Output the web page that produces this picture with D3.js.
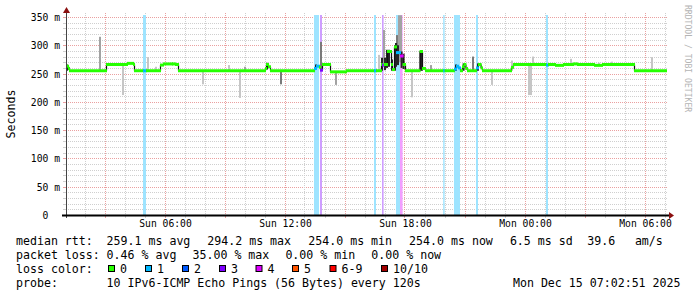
<!DOCTYPE html>
<html><head><meta charset="utf-8">
<script src="https://cdn.jsdelivr.net/npm/d3@7/dist/d3.min.js"></script>
<style>
html,body{margin:0;padding:0;background:#fff;}
svg{display:block;font-family:"DejaVu Sans Mono",monospace;}
text{white-space:pre;}
</style></head><body>
<svg id="c" width="697" height="297"></svg>
<script>
// ---------- DATA ----------
// time is expressed in hours since Sun Dec 14 2025 00:00
const timeDomainHours = [1.05, 31.05];
const xTickHours = [6, 12, 18, 24, 30];
const xTickLabels = ["Sun 06:00", "Sun 12:00", "Sun 18:00", "Mon 00:00", "Mon 06:00"];
const yMax = 353.5;
const yTickValues = [0, 50, 100, 150, 200, 250, 300, 350];
const yTickLabels = ["0  ", "50 m", "100 m", "150 m", "200 m", "250 m", "300 m", "350 m"];

const lossLabels = ["0", "1", "2", "3", "4", "5", "6-9", "10/10"];
const lossColors = ["#26ff00", "#00b8ff", "#0059ff", "#7e00ff", "#dd00ff", "#ff5500", "#ff0000", "#a10000"];

// median rtt (ms) step series: [hour, ms, lossIndex]
const medianSeries = [
  [1.05,263,0],[1.15,259,0],[1.2,255,0],
  [3.05,266,0],[4.1,268,0],[4.4,266,0],[4.45,255,0],
  [4.9,255,1],[5.05,255,0],
  [5.75,265,0],[5.9,267,0],[6.35,267,0],[6.5,266,0],[6.65,255,0],
  [11.0,259,0],[11.05,266,0],[11.15,262,0],[11.25,255,0],
  [13.45,259,1],[13.55,263,1],[13.7,261,0],[13.75,256,3],[13.85,266,0],[14.25,253,0],[15.05,255,0],
  [16.45,255,1],[16.55,255,0],[16.8,266,0],[16.85,265,3],[16.93,266,0],[17.1,289,0],[17.3,266,0],
  [17.35,257,0],[17.45,297,0],[17.55,287,1],[17.75,281,4],[17.88,266,0],[18.0,255,0],
  [18.73,289,0],[18.85,259,0],[19.0,255,0],
  [19.91,255,1],[19.98,255,0],
  [20.45,258,1],[20.55,263,1],[20.65,260,1],[20.75,255,0],
  [20.85,262,0],[20.92,266,0],[21.02,259,0],[21.1,255,0],
  [21.55,260,1],[21.65,266,0],[21.78,260,0],[21.85,255,0],
  [23.3,261,0],[23.4,266,0],[25.05,265,1],[25.15,266,0],
  [25.5,264.5,0],[25.9,266,0],[26.4,267,0],[26.6,266,0],[27.45,264.5,0],[27.85,266,0],
  [29.45,255,0],[31.05,255,0]
];

// packet loss periods: [startHour, endHour, lossIndex]
const lossPeriods = [
  [4.9,5.05,1],[13.45,13.7,1],[13.75,13.85,3],[16.45,16.55,1],[16.85,16.93,3],
  [17.55,17.75,1],[17.75,17.88,4],[19.91,19.98,1],[20.45,20.75,1],[21.55,21.65,1],[25.05,25.15,1]
];

// smoke (ping spread): [hour, lowMs, highMs, density 0..3]
const smokeStepHours = 0.1;
const smokeSeries = [
  [1.05,255,266,3],[2.7,255,315,1],[3.85,212,266,0],[5.1,255,279,0],[5.5,255,262,0],
  [7.85,231,255,0],[9.15,255,265,0],[9.7,207,255,0],[9.95,255,262,1],[11.05,257,269,3],
  [11.75,231,255,2],[13.5,258,266,3],[13.75,255,306,2],[14.5,230,253,1],
  [16.65,255,283,0],[16.8,255,278,3],[16.9,262,327,1],[16.95,256,278,3],[17.05,260,292,3],
  [17.15,262,292,3],[17.3,255,275,3],[17.45,255,300,3],[17.5,262,304,3],[17.55,268,318,2],
  [17.65,270,353,1],[17.6,265,300,3],[17.75,270,353,1],[17.78,260,289,3],[17.88,258,285,3],
  [18.3,208,255,0],[18.73,255,290,3],[18.8,255,290,3],[19.25,255,265,1],
  [20.5,255,266,3],[20.88,255,268,3],[21.35,255,280,2],[21.6,255,268,3],[22.3,230,255,0],
  [23.3,255,273,0],[24.15,212,265,0],[24.25,212,265,0],[24.35,266,280,0],
  [26.25,266,276,0],[27.65,266,269,0],[28.3,266,271,0],[30.3,255,279,0]
];

const rttLegend = ["259.1 ms avg", "294.2 ms max", "254.0 ms min", "254.0 ms now", "6.5 ms sd", "39.6", "am/s"];
const lossLegend = ["0.46 % avg", "35.00 % max", "0.00 % min", "0.00 % now"];
const probeText = "10 IPv6-ICMP Echo Pings (56 Bytes) every 120s";
const stampText = "Mon Dec 15 07:02:51 2025";
const yTitle = "Seconds";
const watermark = "RRDTOOL / TOBI OETIKER";

// ---------- DRAW ----------
const base = new Date(2025, 11, 14, 0, 0, 0).getTime();
const T = h => new Date(base + h * 3600e3);
const L = 66, R = 666, TOP = 15, BOT = 215;
const x = d3.scaleTime().domain(timeDomainHours.map(T)).range([L, R]);
const y = d3.scaleLinear().domain([0, yMax]).range([BOT, TOP]);
const svg = d3.select("#c");
svg.append("rect").attr("width", 697).attr("height", 297).attr("fill", "#fff");

const px = v => Math.round(v) + 0.5;
// grid: horizontal
const gGrid = svg.append("g");
d3.range(10, 351, 10).forEach(v => {
  const major = v % 50 === 0;
  const col = major ? "#eaa0a0" : "#cfcfcf";
  gGrid.append("line").attr("x1", L - 2).attr("x2", R + 2).attr("y1", px(y(v))).attr("y2", px(y(v)))
    .attr("stroke", col).attr("stroke-dasharray", "1,1");
  gGrid.append("line").attr("x1", L - 3).attr("x2", L).attr("y1", px(y(v))).attr("y2", px(y(v)))
    .attr("stroke", col);
});
// grid: vertical
x.ticks(d3.timeHour.every(1)).forEach(d => {
  const major = d.getHours() % 3 === 0;
  const col = major ? "#eaa0a0" : "#cfcfcf";
  const xv = px(x(d) - 0.5);
  gGrid.append("line").attr("x1", xv).attr("x2", xv).attr("y1", TOP - 2).attr("y2", BOT)
    .attr("stroke", col).attr("stroke-dasharray", "1,1");
  gGrid.append("line").attr("x1", xv).attr("x2", xv).attr("y1", BOT).attr("y2", BOT + 3)
    .attr("stroke", col);
});

// loss bars
const light = c => d3.interpolateRgb("#ffffff", c)(0.38);
svg.append("g").selectAll("rect").data(lossPeriods).join("rect")
  .attr("x", d => x(T(d[0]))).attr("width", d => x(T(d[1])) - x(T(d[0])))
  .attr("y", TOP).attr("height", BOT - TOP)
  .attr("fill", d => light(lossColors[d[2]]));

// smoke
const toneColors = ["#c6c6c6", "#a2a2a2", "#7a7a7a", "#262626"];
svg.append("g").selectAll("rect").data(smokeSeries.slice().sort((a, b) => a[3] - b[3])).join("rect")
  .attr("x", d => x(T(d[0]))).attr("width", d => x(T(d[0] + smokeStepHours)) - x(T(d[0])))
  .attr("y", d => y(d[2])).attr("height", d => Math.max(1, y(d[1]) - y(d[2])))
  .attr("fill", d => toneColors[d[3]]);

// median: vertical transitions then horizontal colored segments
const pairs = d3.pairs(medianSeries);
svg.append("g").selectAll("line").data(pairs.filter(p => p[0][1] !== p[1][1])).join("line")
  .attr("x1", p => x(T(p[1][0])) + 0.5).attr("x2", p => x(T(p[1][0])) + 0.5)
  .attr("y1", p => y(p[0][1])).attr("y2", p => y(p[1][1]))
  .attr("stroke", "#111").attr("stroke-width", 1.2);
svg.append("g").selectAll("line").data(pairs).join("line")
  .attr("x1", p => x(T(p[0][0]))).attr("x2", p => x(T(p[1][0])) + 1)
  .attr("y1", p => y(p[0][1])).attr("y2", p => y(p[0][1]))
  .attr("stroke", p => lossColors[p[0][2]]).attr("stroke-width", 3);

// axes lines
svg.append("line").attr("x1", L + 0.5).attr("x2", L + 0.5).attr("y1", BOT + 3).attr("y2", 11)
  .attr("stroke", "#444").attr("stroke-width", 1);
svg.append("line").attr("x1", L - 4).attr("x2", R + 4).attr("y1", BOT + 0.5).attr("y2", BOT + 0.5)
  .attr("stroke", "#000").attr("stroke-width", 2);
svg.append("path").attr("d", `M${L - 3},13 L${L + 0.5},7 L${L + 4},13 Z`).attr("fill", "#8b1010");
svg.append("path").attr("d", `M${R + 3},${BOT - 3} L${R + 8},${BOT + 0.5} L${R + 3},${BOT + 4} Z`).attr("fill", "#8b1010");

// axis labels
const yAxis = svg.append("g").attr("transform", `translate(${L},0)`)
  .call(d3.axisLeft(y).tickValues(yTickValues).tickFormat((d, i) => yTickLabels[i]).tickSize(0).tickPadding(6));
yAxis.select(".domain").remove();
yAxis.selectAll("text").attr("font-family", "DejaVu Sans Mono").attr("font-size", "9.7px").attr("fill", "#000").attr("dy", "0.36em");
const xAxis = svg.append("g").attr("transform", `translate(0,${BOT})`)
  .call(d3.axisBottom(x).tickValues(xTickHours.map(T)).tickFormat((d, i) => xTickLabels[i]).tickSize(0).tickPadding(5.6));
xAxis.select(".domain").remove();
xAxis.selectAll("text").attr("font-family", "DejaVu Sans Mono").attr("font-size", "9.7px").attr("fill", "#000");
xAxis.selectAll(".tick").attr("transform", d => `translate(${x(d) + 0.5},0)`);
svg.selectAll(".tick line").remove();

// y title
svg.append("text").attr("transform", "translate(15,114) rotate(-90)").attr("text-anchor", "middle")
  .attr("font-size", "11.6px").attr("fill", "#000").text(yTitle);
// watermark
svg.append("text").attr("transform", "translate(685,5) rotate(90)")
  .attr("font-size", "8.1px").attr("fill", "#b4b4b4").text(watermark);

// legend
const leg = svg.append("g").attr("font-size", "11.6px").attr("fill", "#000");
const put = (xx, yy, t, anchor) => leg.append("text").attr("x", xx).attr("y", yy)
  .attr("text-anchor", anchor || "start").text(t);
const ly = [244.5, 258.5, 272.5, 286.5];
put(16, ly[0], "median rtt:");
[106.6, 207.3, 308.3, 409.1, 509.9, 587.3, 634.9].forEach((xx, i) => put(xx, ly[0], rttLegend[i]));
put(16, ly[1], "packet loss:");
[106.6, 192.5, 285.4, 371.3].forEach((xx, i) => put(xx, ly[1], lossLegend[i]));
put(16, ly[2], "loss color:");
const boxX = [108.5, 145.5, 182.5, 219.5, 256, 292.5, 330, 381.5];
lossLabels.forEach((lab, i) => {
  leg.append("rect").attr("x", boxX[i]).attr("y", 265.5).attr("width", 6).attr("height", 6)
    .attr("fill", lossColors[i]).attr("stroke", "#000").attr("stroke-width", 1);
  put(boxX[i] + 11.5, ly[2], lab);
});
put(16, ly[3], "probe:");
put(106.6, ly[3], probeText);
put(680.5, ly[3], stampText, "end");
</script>
</body></html>
